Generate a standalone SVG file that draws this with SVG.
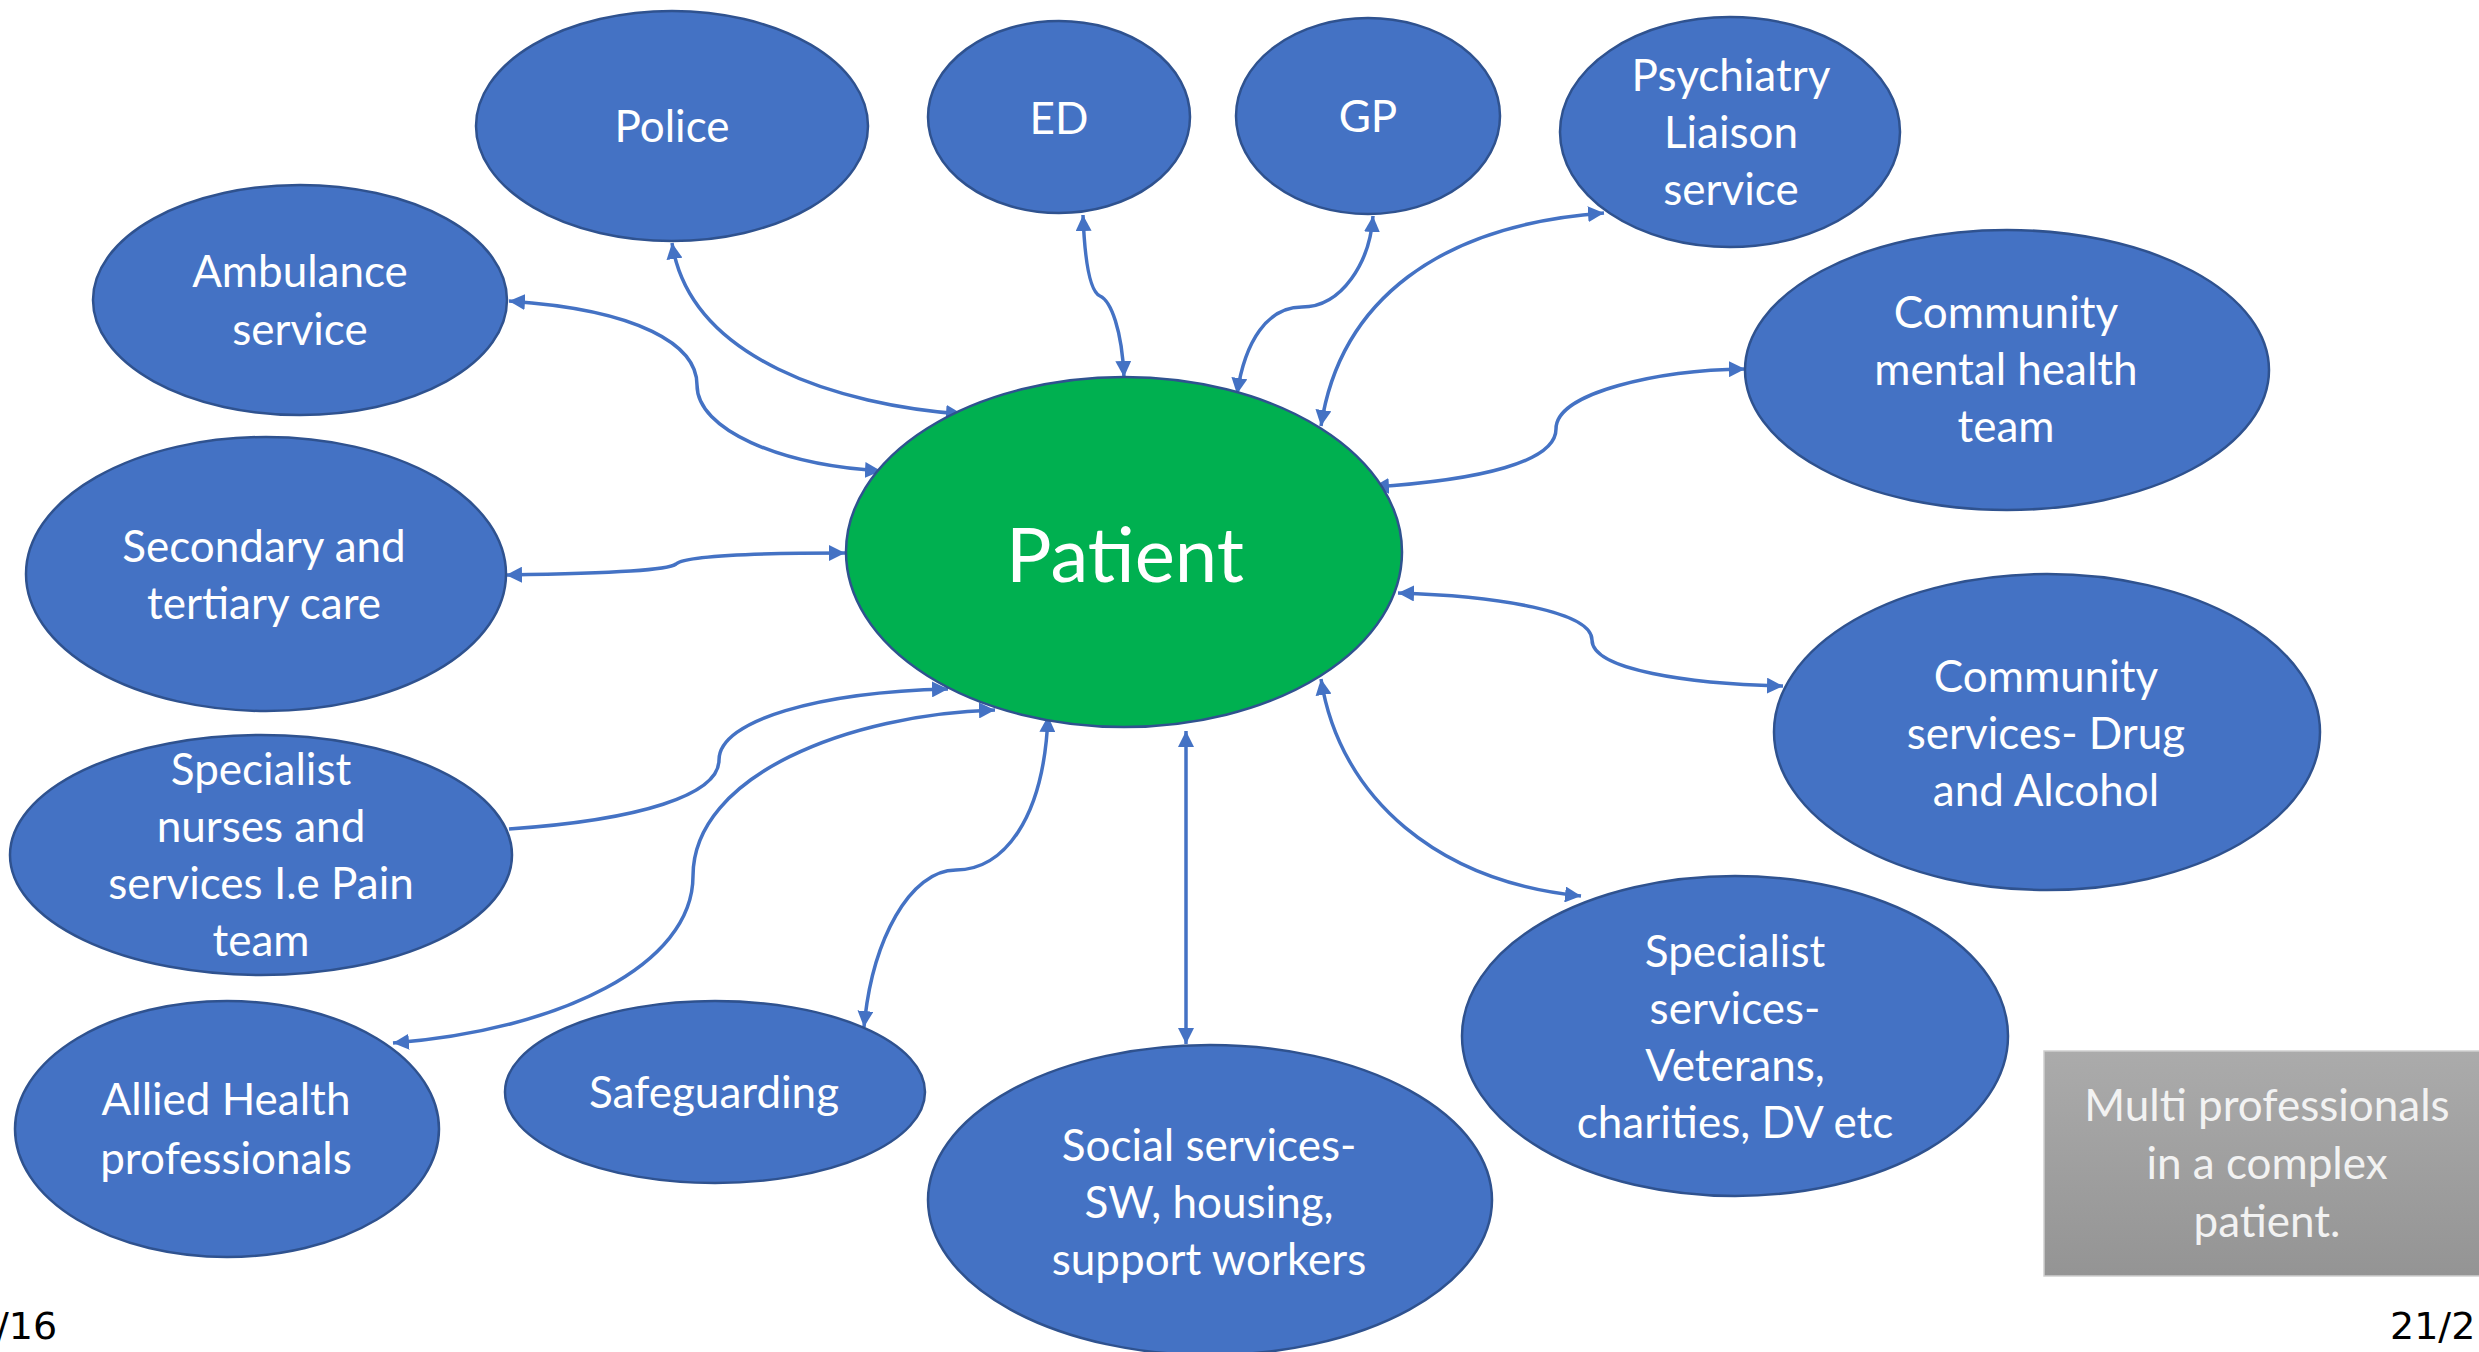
<svg xmlns="http://www.w3.org/2000/svg" width="2479" height="1352" viewBox="0 0 2479 1352">
  <style>
    .node ellipse { fill: #4472C4; stroke: #2F528F; stroke-width: 2.5; }
    .node text { fill: #FFFFFF; font-family: Lato, "Open Sans", sans-serif; font-size: 44px; text-anchor: middle; }
    #patient ellipse { fill: #00B050; }
    #patient text { font-size: 76px; }
    .link { fill: none; stroke: #4472C4; stroke-width: 3.5; marker-start: url(#ah); marker-end: url(#ah); }
    .link.one { marker-start: none; }
    .pageno { font-family: "DejaVu Sans", Verdana, sans-serif; font-size: 38px; fill: #000000; }
    .note text { fill: #F2F2F2; font-family: Lato, "Open Sans", sans-serif; font-size: 44px; text-anchor: middle; }
  </style>
  <defs>
    <marker id="ah" viewBox="0 0 10 10" refX="10" refY="5" markerWidth="16" markerHeight="16" markerUnits="userSpaceOnUse" orient="auto-start-reverse">
      <path d="M0,0 L10,5 L0,10 z" fill="#4472C4"/>
    </marker>
    <linearGradient id="grey" x1="0" y1="0" x2="0" y2="1">
      <stop offset="0" stop-color="#ABABAB"/>
      <stop offset="1" stop-color="#949494"/>
    </linearGradient>
  </defs>

  <rect width="2479" height="1352" fill="#FFFFFF"/>

  <!-- connectors -->
  <g id="connectors">
    <path class="link" d="M 672 243 C 690 360, 840 405, 962 414"/>
    <path class="link" d="M 509 301 C 640 310, 697 345, 697 385 C 697 430, 780 465, 881 471"/>
    <path class="link" d="M 506 575 C 620 573, 668 570, 676 564 C 684 557, 730 553, 845 553"/>
    <path class="link one" d="M 509 829 C 640 820, 719 795, 719 760 C 719 720, 820 692, 948 689"/>
    <path class="link" d="M 393 1043 C 560 1030, 693 965, 693 876 C 693 775, 850 714, 995 710"/>
    <path class="link" d="M 864 1027 C 872 940, 910 870, 956 870 C 1003 870, 1044 820, 1048 716"/>
    <path class="link" d="M 1186 731 L 1186 1044"/>
    <path class="link" d="M 1321 679 C 1340 800, 1440 882, 1581 896"/>
    <path class="link" d="M 1398 593 C 1500 596, 1592 612, 1592 640 C 1592 670, 1690 684, 1783 686"/>
    <path class="link" d="M 1373 487 C 1480 480, 1556 462, 1556 429 C 1556 392, 1660 370, 1745 369"/>
    <path class="link" d="M 1321 426 C 1340 300, 1440 225, 1604 213"/>
    <path class="link" d="M 1237 394 C 1245 340, 1268 307, 1302 307 C 1342 307, 1370 262, 1373 216"/>
    <path class="link" d="M 1083 215 C 1085 268, 1091 292, 1100 296 C 1111 301, 1122 330, 1124 377"/>
  </g>

  <!-- nodes -->
  <g id="patient" class="node">
    <ellipse cx="1124" cy="552" rx="278" ry="175"/>
    <text x="1125" y="582">Patient</text>
  </g>
  <g id="police" class="node">
    <ellipse cx="672" cy="126" rx="196" ry="115"/>
    <text x="672" y="142">Police</text>
  </g>
  <g id="ed" class="node">
    <ellipse cx="1059" cy="117" rx="131" ry="96"/>
    <text x="1059" y="134">ED</text>
  </g>
  <g id="gp" class="node">
    <ellipse cx="1368" cy="116" rx="132" ry="98"/>
    <text x="1368" y="132">GP</text>
  </g>
  <g id="psychiatry" class="node">
    <ellipse cx="1730" cy="132" rx="170" ry="115"/>
    <text x="1731" y="91">Psychiatry</text>
    <text x="1731" y="148">Liaison</text>
    <text x="1731" y="205">service</text>
  </g>
  <g id="cmht" class="node">
    <ellipse cx="2007" cy="370" rx="262" ry="140"/>
    <text x="2006" y="328">Community</text>
    <text x="2006" y="385">mental health</text>
    <text x="2006" y="442">team</text>
  </g>
  <g id="drug-alcohol" class="node">
    <ellipse cx="2047" cy="732" rx="273" ry="158"/>
    <text x="2046" y="692">Community</text>
    <text x="2046" y="749">services- Drug</text>
    <text x="2046" y="806">and Alcohol</text>
  </g>
  <g id="specialist-services" class="node">
    <ellipse cx="1735" cy="1036" rx="273" ry="160"/>
    <text x="1735" y="967">Specialist</text>
    <text x="1735" y="1024">services-</text>
    <text x="1735" y="1081">Veterans,</text>
    <text x="1735" y="1138">charities, DV etc</text>
  </g>
  <g id="social" class="node">
    <ellipse cx="1210" cy="1200" rx="282" ry="155"/>
    <text x="1209" y="1161">Social services-</text>
    <text x="1209" y="1218">SW, housing,</text>
    <text x="1209" y="1275">support workers</text>
  </g>
  <g id="safeguarding" class="node">
    <ellipse cx="715" cy="1092" rx="210" ry="91"/>
    <text x="714" y="1108">Safeguarding</text>
  </g>
  <g id="allied" class="node">
    <ellipse cx="227" cy="1129" rx="212" ry="128"/>
    <text x="226" y="1115">Allied Health</text>
    <text x="226" y="1174">professionals</text>
  </g>
  <g id="specialist-nurses" class="node">
    <ellipse cx="261" cy="855" rx="251" ry="120"/>
    <text x="261" y="785">Specialist</text>
    <text x="261" y="842">nurses and</text>
    <text x="261" y="899">services I.e Pain</text>
    <text x="261" y="956">team</text>
  </g>
  <g id="secondary" class="node">
    <ellipse cx="266" cy="574" rx="240" ry="137"/>
    <text x="264" y="562">Secondary and</text>
    <text x="264" y="619">tertiary care</text>
  </g>
  <g id="ambulance" class="node">
    <ellipse cx="300" cy="300" rx="207" ry="115"/>
    <text x="300" y="287">Ambulance</text>
    <text x="300" y="345">service</text>
  </g>

  <!-- caption box -->
  <g id="caption" class="note">
    <rect x="2044" y="1051" width="440" height="225" fill="url(#grey)" stroke="#CFCFCF" stroke-width="1.5"/>
    <text x="2267" y="1121">Multi professionals</text>
    <text x="2267" y="1179">in a complex</text>
    <text x="2267" y="1237">patient.</text>
  </g>

  <!-- page numbers -->
  <text class="pageno" x="-4" y="1339">/16</text>
  <text class="pageno" x="2390" y="1339">21/2</text>
</svg>
